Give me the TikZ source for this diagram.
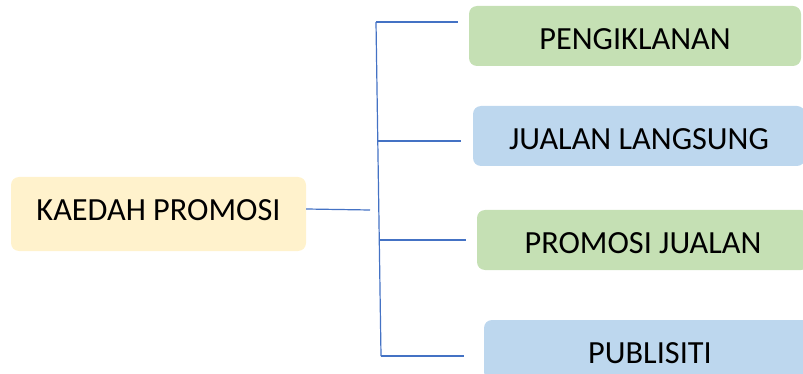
\documentclass[tikz,border=0pt]{standalone}
\usepackage{fontspec}
\setmainfont{Carlito}
\usepackage{xcolor}
\usetikzlibrary{positioning}

\definecolor{kuning}{HTML}{FFF2CC}
\definecolor{hijau}{HTML}{C5E0B4}
\definecolor{biru}{HTML}{BDD7EE}
\definecolor{garis}{HTML}{4472C4}

\tikzset{
  kotak/.style={rounded corners=8pt, minimum height=60pt, minimum width=332pt,
    inner sep=0pt, text height=26.5pt, text depth=0pt,
    font=\fontsize{32.3}{36}\selectfont},
  kotakutama/.style={kotak, fill=kuning, minimum height=74pt, minimum width=295pt,
    text height=20.9pt, text depth=7pt},
  kotakhijau/.style={kotak, fill=hijau},
  kotakbiru/.style={kotak, fill=biru},
  cabang/.style={draw=garis, line width=1.2pt}
}

\begin{document}
\begin{tikzpicture}[x=1pt,y=-1pt]
\useasboundingbox (0,0) rectangle (803,374);

\node[kotakutama] (kaedah) at (158.5,214) {KAEDAH PROMOSI};
\node[kotakhijau] (iklan) at (635,36) {PENGIKLANAN};
\node[kotakbiru] (langsung) at (639,136) {JUALAN LANGSUNG};
\node[kotakhijau] (promosi) at (643,240) {PROMOSI JUALAN};
\node[kotakbiru] (publisiti) at (650,350) {PUBLISITI};

% tulang belakang
\coordinate (hub) at (370,210);
\coordinate (s1) at (376,22);
\coordinate (s2) at (378,141);
\coordinate (s3) at (380,240);
\coordinate (s4) at (381,356);

\draw[cabang] (kaedah.east |- 0,209) -- (hub);
\draw[cabang] (s1) -- (s4);
\draw[cabang, shorten >=11pt] (s1) -- (s1 -| iklan.west);
\draw[cabang, shorten >=12pt] (s2) -- (s2 -| langsung.west);
\draw[cabang, shorten >=11pt] (s3) -- (s3 -| promosi.west);
\draw[cabang, shorten >=20pt] (s4) -- (s4 -| publisiti.west);
\end{tikzpicture}
\end{document}
